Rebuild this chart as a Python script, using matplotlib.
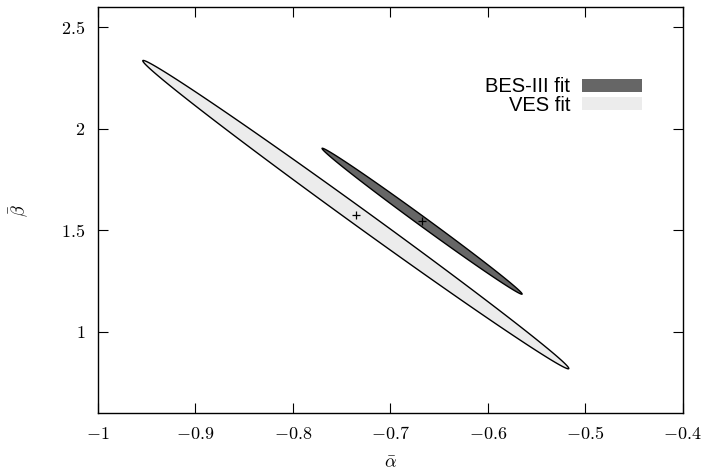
import numpy as np
import matplotlib
matplotlib.use("Agg")
import matplotlib.pyplot as plt
from matplotlib.patches import Patch

plt.rcParams['mathtext.fontset'] = 'cm'
plt.rcParams['font.family'] = ['Liberation Sans', 'DejaVu Sans']

# fit results: central values, half extents of the contour, correlation
fits = ["VES fit", "BES-III fit"]
alpha_c = [-0.7354, -0.6674]
beta_c = [1.578, 1.5455]
alpha_half = [0.2185, 0.1026]
beta_half = [0.7595, 0.3595]
rho = [-0.9976, -0.9970]
fill_cols = ["#ececec", "#666666"]

fig = plt.figure(figsize=(7.09, 4.76), dpi=100)
ax = fig.add_axes([0.138, 0.132, 0.825, 0.853])

t = np.linspace(0, 2 * np.pi, 400)
for i in range(len(fits)):
    x = alpha_c[i] + alpha_half[i] * np.cos(t)
    y = beta_c[i] + beta_half[i] * (rho[i] * np.cos(t) + np.sqrt(1 - rho[i] ** 2) * np.sin(t))
    ax.fill(x, y, facecolor=fill_cols[i], edgecolor="black", lw=1.0, zorder=2)
    ax.plot(alpha_c[i], beta_c[i], marker="+", color="black", ms=5.5, mew=0.9, zorder=3)

ax.set_xlim(-1, -0.4)
ax.set_ylim(0.6, 2.6)
ax.set_xticks([-1, -0.9, -0.8, -0.7, -0.6, -0.5, -0.4])
ax.set_yticks([1, 1.5, 2, 2.5])
ax.set_xticklabels([r"$-1$", r"$-0.9$", r"$-0.8$", r"$-0.7$", r"$-0.6$", r"$-0.5$", r"$-0.4$"])
ax.set_yticklabels([r"$1$", r"$1.5$", r"$2$", r"$2.5$"])
ax.tick_params(direction="in", length=7, width=0.8, top=True, right=True, labelsize=13, pad=9)
for s in ax.spines.values():
    s.set_linewidth(1.0)

ax.set_xlabel(r"$\bar{\alpha}$", fontsize=13, labelpad=9)
ax.set_ylabel(r"$\bar{\beta}$", fontsize=13, labelpad=22)

handles = [Patch(facecolor=fill_cols[1], edgecolor="none"),
           Patch(facecolor=fill_cols[0], edgecolor="none")]
ax.legend(handles, [fits[1], fits[0]], loc="upper right", bbox_to_anchor=(0.944, 0.847),
          frameon=False, markerfirst=False, fontsize=14.5, handlelength=3.0,
          handleheight=0.6, labelspacing=-0.03, handletextpad=0.55, borderaxespad=0)

fig.savefig("out.png", dpi=100)
